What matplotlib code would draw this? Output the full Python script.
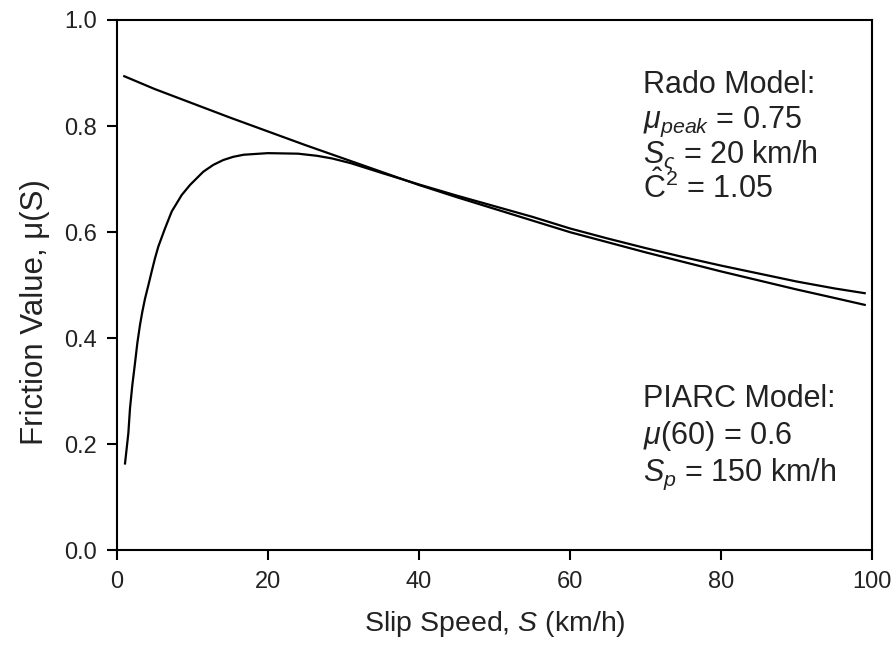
import matplotlib
matplotlib.use("Agg")
import matplotlib.pyplot as plt

# Rado model curve (slip speed in km/h, friction value)
rado_speed = [1.10, 1.54, 1.76, 2.07, 2.42, 2.73, 3.08, 3.39, 3.75, 4.19, 4.63,
              5.07, 5.51, 6.39, 7.28, 8.6, 9.7, 11.46, 12.8, 14.1, 15.4, 16.8,
              20.0, 24.0, 26.5, 28.5, 31.0, 35.0, 40.0, 45.0, 50.0, 55.0, 60.0,
              65.0, 70.0, 75.0, 80.0, 85.0, 90.0, 95.0, 99.0]
rado_mu = [0.164, 0.221, 0.268, 0.312, 0.353, 0.391, 0.425, 0.450, 0.475, 0.500,
           0.526, 0.551, 0.573, 0.607, 0.639, 0.670, 0.689, 0.714, 0.727, 0.736,
           0.742, 0.746, 0.749, 0.748, 0.744, 0.739, 0.730, 0.712, 0.690, 0.669,
           0.649, 0.629, 0.607, 0.588, 0.570, 0.553, 0.537, 0.522, 0.507, 0.494,
           0.485]

# PIARC model curve
piarc_speed = [1, 5, 10, 15, 20, 25, 30, 35, 40, 45, 50, 55, 60, 65, 70, 75, 80,
               85, 90, 95, 99]
piarc_mu = [0.894, 0.870, 0.843, 0.816, 0.790, 0.764, 0.739, 0.714, 0.689, 0.666,
            0.644, 0.622, 0.600, 0.581, 0.562, 0.544, 0.526, 0.509, 0.492, 0.476,
            0.463]

x_ticks = [0, 20, 40, 60, 80, 100]
y_ticks = [0.0, 0.2, 0.4, 0.6, 0.8, 1.0]

rado_lines = ["Rado Model:",
              r"$\mu_{peak}$ = 0.75",
              r"$S_{\varsigma}$ = 20 km/h",
              r"$\hat{\mathrm{C}}^2$ = 1.05"]
piarc_lines = ["PIARC Model:",
               r"$\mu$(60) = 0.6",
               r"$S_p$ = 150 km/h"]

plt.rcParams["font.family"] = ["Liberation Sans", "DejaVu Sans"]
plt.rcParams["mathtext.fontset"] = "custom"
plt.rcParams["mathtext.rm"] = "Liberation Sans"
plt.rcParams["mathtext.it"] = "Liberation Sans:italic"
plt.rcParams["mathtext.bf"] = "Liberation Sans:bold"

text_color = "#222222"

fig = plt.figure(figsize=(8.95, 6.49), dpi=100)
ax = fig.add_axes([0.1304, 0.1518, 0.8442, 0.8174])

ax.plot(rado_speed, rado_mu, color="black", lw=1.6)
ax.plot(piarc_speed, piarc_mu, color="black", lw=1.6)

ax.set_xlim(0, 100)
ax.set_ylim(0, 1.0)
ax.set_xticks(x_ticks)
ax.set_yticks(y_ticks)
ax.set_xticklabels([str(t) for t in x_ticks])
ax.set_yticklabels([f"{t:.1f}" for t in y_ticks])

for side in ax.spines.values():
    side.set_linewidth(1.5)
    side.set_color("black")

ax.tick_params(axis="both", direction="out", length=7, width=1.5,
               labelsize=17, labelcolor=text_color)
ax.tick_params(axis="x", pad=8)
ax.tick_params(axis="y", pad=7)

ax.set_xlabel(r"Slip Speed, $S$ (km/h)", fontsize=20.5, color=text_color, labelpad=11)
ax.set_ylabel("Friction Value, \u03bc(S)", fontsize=22.5, color=text_color)
ax.yaxis.set_label_coords(-0.088, 0.45)

# model parameter notes, one line at a time (pixel positions)
W, H = 895.0, 649.0
for i, line in enumerate(rado_lines):
    fig.text(643 / W, 1 - (93 + 35 * i) / H, line, fontsize=22, color=text_color,
             ha="left", va="baseline")
for i, line in enumerate(piarc_lines):
    fig.text(643 / W, 1 - (407 + 37 * i) / H, line, fontsize=22, color=text_color,
             ha="left", va="baseline")

fig.savefig("out.png", dpi=100)
